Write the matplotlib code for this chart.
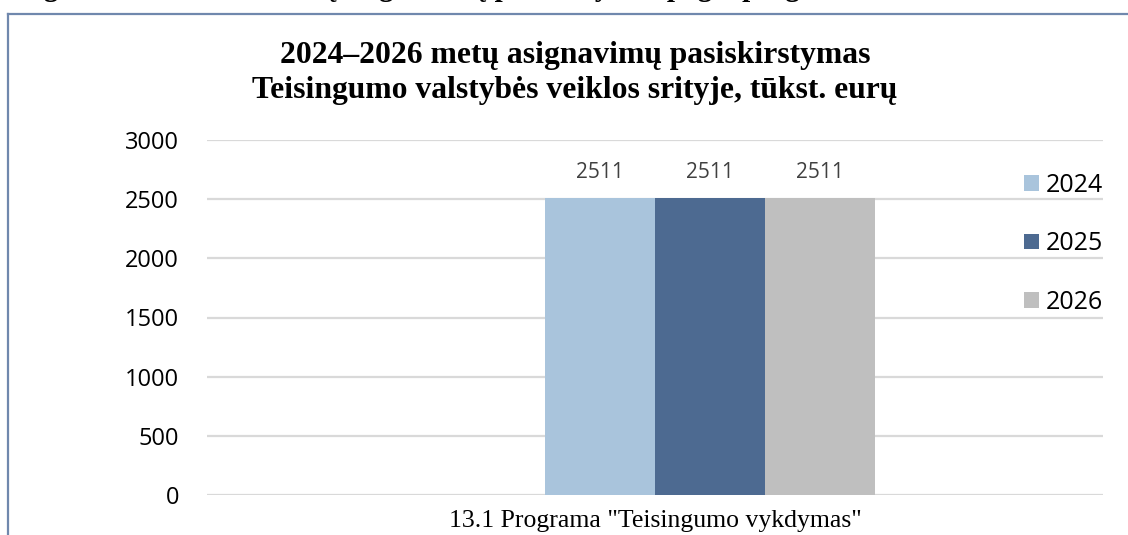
import matplotlib
matplotlib.use("Agg")
import matplotlib.pyplot as plt
from matplotlib.lines import Line2D

# duomenys
program = '13.1 Programa "Teisingumo vykdymas"'
years = ["2024", "2025", "2026"]
values = [2511, 2511, 2511]
colors = ["#a9c4dc", "#4d6a91", "#bfbfbf"]
yticks = [0, 500, 1000, 1500, 2000, 2500, 3000]

title1 = "2024\u20132026 metų asignavimų pasiskirstymas"
title2 = "Teisingumo valstybės veiklos srityje, tūkst. eurų"
top_line = "Figure 7. 2024\u20132026 metų asignavimų paskirstymas pagal programas"

W, H = 1128, 535
fig = plt.figure(figsize=(W / 100, H / 100), dpi=100)
ax = fig.add_axes([207 / W, 1 - 495 / H, 896 / W, 355 / H])

bw = 0.1228
for i, (yr, v, c) in enumerate(zip(years, values, colors)):
    b = ax.bar((i - 1) * bw, v, width=bw, color=c, label=yr, zorder=3)
    ax.bar_label(b, labels=[str(v)], padding=11, fontsize=15,
                 color="#404040", family="Open Sans")

ax.set_xlim(-0.561, 0.439)
ax.set_ylim(0, 3000)
ax.set_yticks(yticks)
ax.set_xticks([])
ax.tick_params(axis="y", length=0, pad=20, labelsize=17)
for t in ax.get_yticklabels():
    t.set_family("Open Sans")
ax.grid(axis="y", color="#d9d9d9", lw=1.6, zorder=0)
for s in ax.spines.values():
    s.set_visible(False)
ax.set_xlabel(program, family="Liberation Serif", fontsize=18.5, labelpad=11)

leg = ax.legend(loc="upper left", bbox_to_anchor=(1001 / W, 1 - 150 / H),
                bbox_transform=fig.transFigure, frameon=False,
                prop={"family": "Open Sans", "size": 18},
                handlelength=0.6, handleheight=0.6, handletextpad=0.3,
                labelspacing=1.35)

fig.text(575 / W, 1 - 63 / H, title1, ha="center", va="baseline",
         family="Liberation Serif", weight="bold", fontsize=22.8)
fig.text(575 / W, 1 - 98 / H, title2, ha="center", va="baseline",
         family="Liberation Serif", weight="bold", fontsize=22.8)

# iškirpta viršutinė eilutė
fig.text(18 / W, 1 + 4 / H, top_line, ha="left", va="baseline",
         family="Liberation Serif", weight="bold", fontsize=21)

# rėmelis
fig.add_artist(Line2D([8 / W, 8 / W], [0, 1 - 14 / H], color="#7088ad", lw=1.6))
fig.add_artist(Line2D([8 / W, 1], [1 - 14 / H, 1 - 14 / H], color="#7088ad", lw=1.6))

fig.savefig("out.png", dpi=100)
